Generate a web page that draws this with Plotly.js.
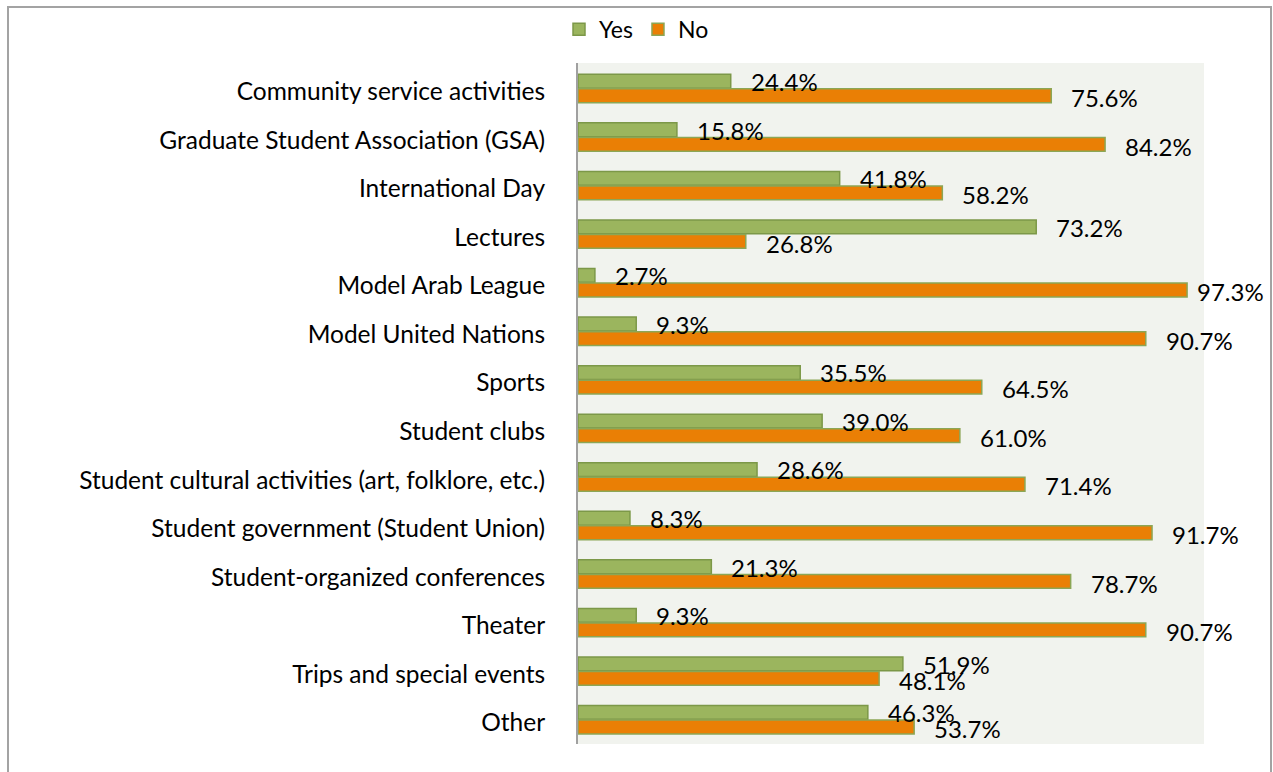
<!DOCTYPE html>
<html><head><meta charset="utf-8">
<script src="https://cdn.plot.ly/plotly-3.0.1.min.js"></script>
<style>
html,body{margin:0;padding:0;background:#fff}
#wrap{position:relative;width:1273px;height:772px;overflow:hidden}
#chart{width:1273px;height:772px}
#frame{position:absolute;left:7px;top:6px;width:1261px;height:800px;border:2px solid #A3A3A3;border-bottom:none;pointer-events:none}
</style>
</head><body>
<div id="wrap"><div id="chart"></div><div id="frame"></div></div>
<script>
const categories = [
  'Community service activities',
  'Graduate Student Association (GSA)',
  'International Day',
  'Lectures',
  'Model Arab League',
  'Model United Nations',
  'Sports',
  'Student clubs',
  'Student cultural activities (art, folklore, etc.)',
  'Student government (Student Union)',
  'Student-organized conferences',
  'Theater',
  'Trips and special events',
  'Other'
];
const yesValues = [24.4, 15.8, 41.8, 73.2, 2.7, 9.3, 35.5, 39.0, 28.6, 8.3, 21.3, 9.3, 51.9, 46.3];
const noValues  = [75.6, 84.2, 58.2, 26.8, 97.3, 90.7, 64.5, 61.0, 71.4, 91.7, 78.7, 90.7, 48.1, 53.7];
const seriesNames = ['Yes', 'No'];

const FONT = 'Lato, "Open Sans", sans-serif';
const W = 1273, H = 772;
const M = {l: 578, r: 69, t: 63, b: 28};
const plotW = W - M.l - M.r;
const LABEL_SIZE = 24, TICK_SIZE = 24.5;

const yesColor = '#9BB55E', yesLine = '#7C9848';
const noColor = '#EA7F05', noLine = '#8CA655';

const traces = [
  {type: 'bar', orientation: 'h', name: seriesNames[0], x: yesValues, y: categories,
   marker: {color: yesColor, line: {color: yesLine, width: 1.5}}, hoverinfo: 'x+y'},
  {type: 'bar', orientation: 'h', name: seriesNames[1], x: noValues, y: categories,
   marker: {color: noColor, line: {color: noLine, width: 1.5}}, hoverinfo: 'x+y'}
];

function labelShift(v) {
  const end = M.l + v / 100 * plotW;
  return Math.min(18, (W - 12 - 66) - end);
}
const annotations = [];
categories.forEach((c, i) => {
  annotations.push({x: yesValues[i], y: c, xref: 'x', yref: 'y', text: yesValues[i].toFixed(1) + '%',
    showarrow: false, xanchor: 'left', yanchor: 'middle', xshift: labelShift(yesValues[i]), yshift: 7,
    font: {family: FONT, size: LABEL_SIZE, color: '#000'}});
  annotations.push({x: noValues[i], y: c, xref: 'x', yref: 'y', text: noValues[i].toFixed(1) + '%',
    showarrow: false, xanchor: 'left', yanchor: 'middle', xshift: labelShift(noValues[i]), yshift: -9,
    font: {family: FONT, size: LABEL_SIZE, color: '#000'}});
});

const layout = {
  width: W, height: H,
  margin: M,
  paper_bgcolor: 'rgba(0,0,0,0)',
  plot_bgcolor: '#F1F3EE',
  barmode: 'group',
  bargap: 0.4,
  bargroupgap: 0.05,
  font: {family: FONT, size: LABEL_SIZE, color: '#000'},
  showlegend: true,
  legend: {orientation: 'h', xref: 'container', yref: 'container', x: 0.5, xanchor: 'center',
    y: 0.99, yanchor: 'top', font: {family: FONT, size: 23, color: '#000'},
    itemwidth: 30, tracegroupgap: 0, bgcolor: 'rgba(0,0,0,0)'},
  xaxis: {range: [0, 100], showgrid: false, zeroline: false, showticklabels: false,
    ticks: '', showline: false, fixedrange: true},
  yaxis: {type: 'category', autorange: 'reversed', showgrid: false, zeroline: false,
    showline: true, linecolor: '#A0A0A0', linewidth: 2, ticks: '',
    ticklabelstandoff: 26, ticklabelshift: -3,
    tickfont: {family: FONT, size: TICK_SIZE, color: '#000'}, fixedrange: true},
  annotations: annotations
};

Plotly.newPlot('chart', traces, layout, {displayModeBar: false, staticPlot: true});
</script>
</body></html>
